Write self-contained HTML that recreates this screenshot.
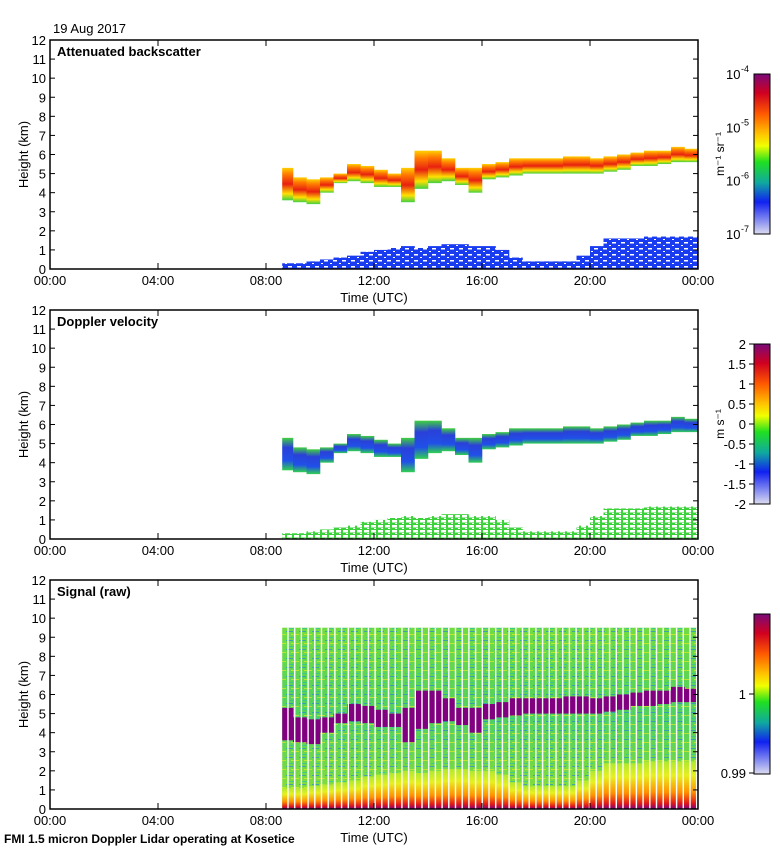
<!DOCTYPE html>
<html><head><meta charset="utf-8"><style>
body{margin:0;background:#fff;width:780px;height:850px;overflow:hidden;font-family:"Liberation Sans",sans-serif}
text{font-family:"Liberation Sans",sans-serif;fill:#000}
</style></head><body>
<svg id="s" width="780" height="850" xmlns="http://www.w3.org/2000/svg">
<defs>
<linearGradient id="cb" x1="0" y1="0" x2="0" y2="1">
<stop offset="0" stop-color="#7a0a78"/><stop offset="0.12" stop-color="#d00020"/><stop offset="0.25" stop-color="#ff5a00"/>
<stop offset="0.38" stop-color="#ffc800"/><stop offset="0.45" stop-color="#f0ff00"/><stop offset="0.55" stop-color="#20e020"/>
<stop offset="0.68" stop-color="#10a8a0"/><stop offset="0.8" stop-color="#1020f0"/><stop offset="1" stop-color="#dcdcf0"/>
</linearGradient>
<linearGradient id="cloudB" x1="0" y1="1" x2="0" y2="0">
<stop offset="0" stop-color="#40d040"/><stop offset="0.2" stop-color="#ffe000"/><stop offset="0.5" stop-color="#e82010"/>
<stop offset="0.8" stop-color="#ff7a00"/><stop offset="1" stop-color="#ffd000"/>
</linearGradient>
<linearGradient id="cloudV" x1="0" y1="1" x2="0" y2="0">
<stop offset="0" stop-color="#30d050"/><stop offset="0.3" stop-color="#2050e8"/><stop offset="0.7" stop-color="#2a40d8"/><stop offset="1" stop-color="#40d040"/>
</linearGradient>
<linearGradient id="blS" x1="0" y1="1" x2="0" y2="0">
<stop offset="0" stop-color="#800080"/><stop offset="0.12" stop-color="#e01818"/><stop offset="0.35" stop-color="#ff9000"/><stop offset="0.7" stop-color="#e8f020"/><stop offset="1" stop-color="#b0e830"/>
</linearGradient>
<linearGradient id="sigBg" x1="0" y1="0" x2="0" y2="1">
<stop offset="0" stop-color="#70dc40"/><stop offset="0.5" stop-color="#50d060"/><stop offset="1" stop-color="#90e030"/>
</linearGradient>
<pattern id="stripes" width="6.7" height="10" patternUnits="userSpaceOnUse" x="282">
<rect x="5.3" y="0" width="1.4" height="10" fill="#fff"/>
</pattern>
<pattern id="noise" width="13" height="9" patternUnits="userSpaceOnUse">
<rect x="0" y="1" width="7" height="1" fill="#2080e0" opacity="0.6"/>
<rect x="5" y="4" width="8" height="1" fill="#f0f020" opacity="0.6"/>
<rect x="2" y="7" width="6" height="1" fill="#20c0b0" opacity="0.6"/>
</pattern>
<pattern id="speck" width="9" height="6" patternUnits="userSpaceOnUse">
<rect x="0" y="2" width="4" height="1.5" fill="#fff"/>
<rect x="6" y="5" width="2" height="1" fill="#fff"/>
</pattern>
<pattern id="speck2" width="7" height="5" patternUnits="userSpaceOnUse">
<rect x="0" y="0" width="5" height="2.5" fill="#fff"/>
<rect x="3" y="3" width="2" height="1" fill="#fff"/>
</pattern>
</defs>
<g id="g"></g>
</svg>
<script>
const hours=[8.5,9,9.5,10,10.5,11,11.5,12,12.5,13,13.5,14,14.5,15,15.5,16,16.5,17,17.5,18,18.5,19,19.5,20,20.5,21,21.5,22,22.5,23,23.5];
const cloudBase=[3.6,3.5,3.4,4.0,4.5,4.6,4.5,4.3,4.3,3.5,4.2,4.5,4.6,4.4,4.0,4.7,4.8,4.9,5.0,5.0,5.0,5.0,5.0,5.0,5.1,5.2,5.4,5.4,5.5,5.6,5.6];
const cloudTop=[5.3,4.8,4.7,4.8,5.0,5.5,5.4,5.2,5.0,5.3,6.2,6.2,5.8,5.3,5.3,5.5,5.6,5.8,5.8,5.8,5.8,5.9,5.9,5.8,5.9,6.0,6.1,6.2,6.2,6.4,6.3];
const blTop=[0.3,0.3,0.4,0.5,0.6,0.7,0.9,1.0,1.1,1.2,1.1,1.2,1.3,1.3,1.2,1.2,1.0,0.6,0.4,0.4,0.4,0.4,0.7,1.2,1.6,1.6,1.6,1.7,1.7,1.7,1.7];
const timeTicks=["00:00","04:00","08:00","12:00","16:00","20:00","00:00"];
const heightTicks=[0,1,2,3,4,5,6,7,8,9,10,11,12];
const velTicks=["2","1.5","1","0.5","0","-0.5","-1","-1.5","-2"];
const bsTicks=["-4","-5","-6","-7"];
const NS="http://www.w3.org/2000/svg";
const G=document.getElementById('g');
const X0=50,X1=698,PH=229;
const panels=[{top:40,title:"Attenuated backscatter",name:"backscatter"},{top:310,title:"Doppler velocity",name:"velocity"},{top:580,title:"Signal (raw)",name:"signal"}];
function x(h){return X0+h*(X1-X0)/24;}
function y(p,km){return p.top+PH-km*PH/12;}
function el(t,a,txt){const e=document.createElementNS(NS,t);for(const k in a)e.setAttribute(k,a[k]);if(txt!==undefined)e.textContent=txt;G.appendChild(e);return e;}
const dw=x(0.5)-x(0);
panels.forEach((p,pi)=>{
  if(pi===2){
    const bg=el('rect',{x:x(8.6),y:y(p,9.5),width:X1-x(8.6),height:y(p,0)-y(p,9.5),fill:'url(#sigBg)'});
    
    const nz=el('rect',{x:x(8.6),y:y(p,9.5),width:X1-x(8.6),height:y(p,0)-y(p,9.5),fill:'url(#noise)'});
    
  }
  hours.forEach((h,i)=>{
    const x0=Math.max(x(h),x(8.6)),w=x(h)+dw-x0;
    const c=el('rect',{x:x0,y:y(p,cloudTop[i]),width:w+0.3,height:y(p,cloudBase[i])-y(p,cloudTop[i]),fill:pi===0?'url(#cloudB)':pi===1?'url(#cloudV)':'#800080'});
    
    
    const top=pi===2?blTop[i]+0.8:blTop[i];
    const b=el('rect',{x:x0,y:y(p,top),width:w+0.3,height:y(p,0)-y(p,top),fill:pi===0?'#1a3cf0':pi===1?'#3cd23c':'url(#blS)'});
    
    
  });
  if(pi<2){
    const sp=el('rect',{x:x(8.6),y:y(p,2),width:X1-x(8.6),height:y(p,0)-y(p,2),fill:pi===0?'url(#speck)':'url(#speck2)'});
    
  }
  if(pi===2){
    const st=el('rect',{x:x(8.6),y:y(p,9.5),width:X1-x(8.6),height:y(p,0)-y(p,9.5),fill:'url(#stripes)'});
    
  }
  const fr=el('rect',{x:X0,y:p.top,width:X1-X0,height:PH,fill:'none',stroke:'#000','stroke-width':1.5});
  
  heightTicks.forEach(k=>{
    const yy=y(p,k);
    el('line',{x1:X0,x2:X0+5,y1:yy,y2:yy,stroke:'#000'});
    el('line',{x1:X1-5,x2:X1,y1:yy,y2:yy,stroke:'#000'});
    const t=el('text',{x:X0-4,y:yy+5,'text-anchor':'end','font-size':13},String(k));
    
  });
  timeTicks.forEach((s,i)=>{
    const xx=x(i*4);
    el('line',{x1:xx,x2:xx,y1:p.top+PH,y2:p.top+PH-6,stroke:'#000'});
    el('line',{x1:xx,x2:xx,y1:p.top,y2:p.top+6,stroke:'#000'});
    const t=el('text',{x:xx,y:p.top+PH+16,'text-anchor':'middle','font-size':13},s);
    
  });
  const tt=el('text',{x:57,y:p.top+16,'font-size':13,'font-weight':'bold'},p.title);
  
  const xl=el('text',{x:374,y:p.top+PH+33,'text-anchor':'middle','font-size':13},'Time (UTC)');
  
  const yl=el('text',{x:0,y:0,'text-anchor':'middle','font-size':13,transform:`translate(28,${p.top+PH/2}) rotate(-90)`},'Height (km)');
  
  const cy=p.top+34;
  const cb=el('rect',{x:754,y:cy,width:16,height:160,fill:'url(#cb)',stroke:'#000','stroke-width':1});
  
});
bsTicks.forEach((e,i)=>{
  const yy=74+i*53.3;
  const t=el('text',{x:726,y:yy+5,'font-size':13},'10');
  
  el('text',{x:741,y:yy-2,'font-size':9},e);
});
let u=el('text',{x:0,y:0,'font-size':12,'text-anchor':'middle',transform:'translate(724,154) rotate(-90)'},'m⁻¹ sr⁻¹');

velTicks.forEach((v,i)=>{
  const yy=344+i*20;
  el('line',{x1:749,x2:754,y1:yy,y2:yy,stroke:'#000'});
  const t=el('text',{x:746,y:yy+5,'text-anchor':'end','font-size':13},v);
  
});
u=el('text',{x:0,y:0,'font-size':12,'text-anchor':'middle',transform:'translate(724,424) rotate(-90)'},'m s⁻¹');

[["1",694],["0.99",773]].forEach(a=>{
  el('line',{x1:749,x2:754,y1:a[1],y2:a[1],stroke:'#000'});
  const t=el('text',{x:746,y:a[1]+5,'text-anchor':'end','font-size':13},a[0]);
  
});
let d=el('text',{x:53,y:33,'font-size':13},'19 Aug 2017');

d=el('text',{x:4,y:843,'font-size':12,'font-weight':'bold'},'FMI 1.5 micron Doppler Lidar operating at Kosetice');

</script>
</body></html>
